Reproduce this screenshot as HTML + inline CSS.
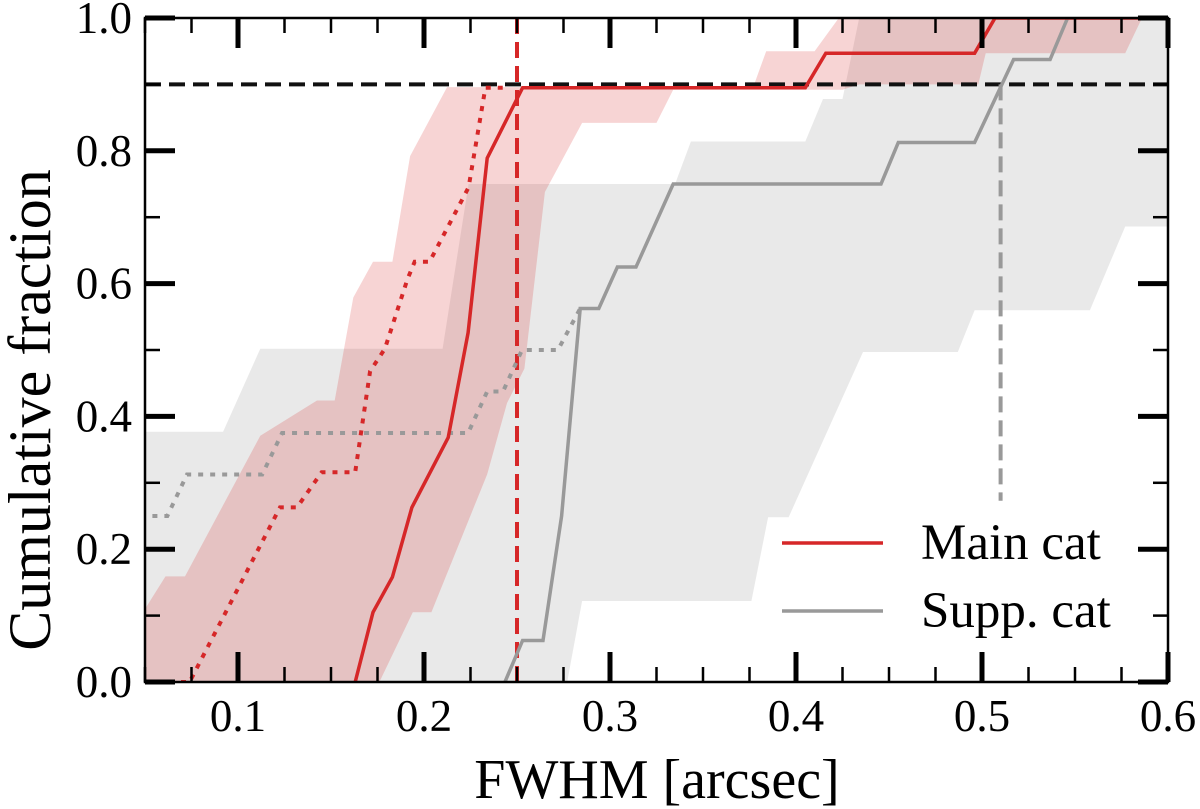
<!DOCTYPE html>
<html><head><meta charset="utf-8"><style>
html,body{margin:0;padding:0;background:#fff;}
svg{display:block;font-family:"Liberation Serif",serif;}
</style></head><body>
<svg id="chart" width="1200" height="809" viewBox="0 0 1200 809" xmlns="http://www.w3.org/2000/svg">
<g id="bands"></g>
<g id="lines"></g>
<g id="axes"></g>
</svg>
<script>
const xTicks=[0.1,0.2,0.3,0.4,0.5,0.6];
const xTickLabels=["0.1","0.2","0.3","0.4","0.5","0.6"];
const yTicks=[0,0.2,0.4,0.6,0.8,1.0];
const yTickLabels=["0.0","0.2","0.4","0.6","0.8","1.0"];
const mainX=[0.163,0.1726,0.183,0.1935,0.213,0.2237,0.234,0.253,0.405,0.416,0.496,0.507,0.6];
const mainY=[0,0.105,0.158,0.263,0.368,0.526,0.789,0.895,0.895,0.947,0.947,1,1];
const mainDotX=[0.05,0.074,0.1226,0.1317,0.145,0.163,0.171,0.179,0.191,0.195,0.203,0.215,0.224,0.233,0.245];
const mainDotY=[0,0,0.263,0.263,0.316,0.316,0.468,0.502,0.606,0.633,0.633,0.697,0.745,0.895,0.895];
const suppX=[0.2435,0.253,0.264,0.274,0.284,0.294,0.304,0.314,0.334,0.4457,0.455,0.496,0.517,0.5366,0.546,0.6];
const suppY=[0,0.0625,0.0625,0.25,0.5625,0.5625,0.625,0.625,0.75,0.75,0.8125,0.8125,0.9375,0.9375,1,1];
const suppDotX=[0.054,0.062,0.0726,0.113,0.1237,0.2237,0.234,0.2425,0.2527,0.272,0.284];
const suppDotY=[0.25,0.25,0.3125,0.3125,0.375,0.375,0.4375,0.4375,0.5,0.5,0.5625];
const mainUpX=[0.05,0.061,0.0715,0.112,0.1425,0.152,0.162,0.1726,0.183,0.1925,0.2124,0.377,0.384,0.41,0.423,0.6];
const mainUpY=[0.11,0.159,0.159,0.371,0.424,0.424,0.579,0.633,0.633,0.792,0.896,0.896,0.95,0.95,1,1];
const mainLoX=[0.05,0.176,0.194,0.204,0.234,0.2446,0.254,0.265,0.285,0.325,0.334,0.425,0.434,0.498,0.502,0.577,0.586,0.6];
const mainLoY=[0,0,0.105,0.105,0.313,0.42,0.472,0.738,0.842,0.842,0.892,0.892,0.9,0.9,0.947,0.947,1,1];
const suppUpX=[0.05,0.092,0.112,0.21,0.224,0.335,0.3435,0.405,0.4145,0.425,0.434,0.6];
const suppUpY=[0.377,0.377,0.502,0.502,0.75,0.75,0.814,0.814,0.878,0.878,1,1];
const suppLoX=[0.05,0.277,0.285,0.376,0.385,0.396,0.436,0.487,0.496,0.558,0.577,0.6];
const suppLoY=[0,0,0.122,0.122,0.248,0.248,0.497,0.497,0.56,0.56,0.686,0.686];
const mainThresh=[0.25];
const suppThresh=[0.51];
const fracLevel=[0.9];

const L=145,R=1168,T=18,B=682;
const X=v=>L+(v-0.05)/0.55*(R-L);
const Y=v=>B-v*(B-T);
const NS="http://www.w3.org/2000/svg";
function mk(tag,parent,attrs){const e=document.createElementNS(NS,tag);for(const k in attrs)e.setAttribute(k,attrs[k]);parent.appendChild(e);return e;}
const pts=(xs,ys)=>xs.map((x,i)=>X(x).toFixed(1)+","+Y(ys[i]).toFixed(1));
const bands=document.getElementById('bands'),lines=document.getElementById('lines'),axes=document.getElementById('axes');
mk('clipPath',document.getElementById('chart'),{id:'clip'});
const cp=document.getElementById('clip');mk('rect',cp,{x:L,y:T,width:R-L,height:B-T});
bands.setAttribute('clip-path','url(#clip)');lines.setAttribute('clip-path','url(#clip)');

let b1=mk('polygon',bands,{points:pts(suppUpX,suppUpY).concat(pts(suppLoX,suppLoY).reverse()).join(' '),fill:'#bbbbbb','fill-opacity':0.33});


let b2=mk('polygon',bands,{points:pts(mainUpX,mainUpY).concat(pts(mainLoX,mainLoY).reverse()).join(' '),fill:'#d62728','fill-opacity':0.2});



let h=mk('line',lines,{x1:L,x2:R,y1:Y(fracLevel[0]),y2:Y(fracLevel[0]),stroke:'#111','stroke-width':4,'stroke-dasharray':'16,8'});


let v1=mk('line',lines,{x1:X(mainThresh[0]),x2:X(mainThresh[0]),y1:T,y2:B,stroke:'#d62728','stroke-width':4,'stroke-dasharray':'16,8'});


let v2=mk('line',lines,{x1:X(suppThresh[0]),x2:X(suppThresh[0]),y1:Y(0.9),y2:Y(0.273),stroke:'#999','stroke-width':4,'stroke-dasharray':'16,8'});



let l1=mk('polyline',lines,{points:pts(suppDotX,suppDotY).join(' '),fill:'none',stroke:'#999','stroke-width':4,'stroke-dasharray':'5,7'});


let l2=mk('polyline',lines,{points:pts(mainDotX,mainDotY).join(' '),fill:'none',stroke:'#d62728','stroke-width':4,'stroke-dasharray':'5,7'});


let l3=mk('polyline',lines,{points:pts(suppX,suppY).join(' '),fill:'none',stroke:'#999','stroke-width':3.5});


let l4=mk('polyline',lines,{points:pts(mainX,mainY).join(' '),fill:'none',stroke:'#d62728','stroke-width':3.5});



let fr=mk('rect',axes,{x:L,y:T,width:R-L,height:B-T,fill:'none',stroke:'#000','stroke-width':2.5});


for(let v=0.05;v<=0.6001;v+=0.025){
  const maj=Math.abs(v*10-Math.round(v*10))<1e-6;
  const len=maj?30:15,w=maj?5:2.5,x=X(v);
  mk('line',axes,{x1:x,x2:x,y1:B,y2:B-len,stroke:'#000','stroke-width':w});
  mk('line',axes,{x1:x,x2:x,y1:T,y2:T+len,stroke:'#000','stroke-width':w});
}
xTicks.forEach((v,i)=>{
  const t=mk('text',axes,{x:X(v),y:731,'text-anchor':'middle','font-size':45,fill:'#000'});
  t.textContent=xTickLabels[i];
  
  
});
for(let v=0;v<=1.0001;v+=0.1){
  const maj=Math.round(v*10)%2===0;
  const len=maj?30:15,w=maj?5:2.5,y=Y(v);
  mk('line',axes,{x1:L,x2:L+len,y1:y,y2:y,stroke:'#000','stroke-width':w});
  mk('line',axes,{x1:R,x2:R-len,y1:y,y2:y,stroke:'#000','stroke-width':w});
}
yTicks.forEach((v,i)=>{
  const t=mk('text',axes,{x:132,y:Y(v)+15,'text-anchor':'end','font-size':45,fill:'#000'});
  t.textContent=yTickLabels[i];
  
  
});
let xt=mk('text',axes,{x:657,y:798,'text-anchor':'middle','font-size':56,fill:'#000'});
xt.textContent='FWHM [arcsec]';


let yt=mk('text',axes,{x:0,y:0,'text-anchor':'middle','font-size':60,fill:'#000',transform:'translate(50,410) rotate(-90)'});
yt.textContent='Cumulative fraction';


const leg=[['Main cat','#d62728',543],['Supp. cat','#999',611]];
leg.forEach(([lab,c,y])=>{
  const g=mk('g',axes,{});
  
  
  mk('line',g,{x1:782,x2:883,y1:y,y2:y,stroke:c,'stroke-width':3.5});
  const t=mk('text',g,{x:921,y:y+16,'font-size':51,fill:'#000'});
  t.textContent=lab;
});
</script>
</body></html>
